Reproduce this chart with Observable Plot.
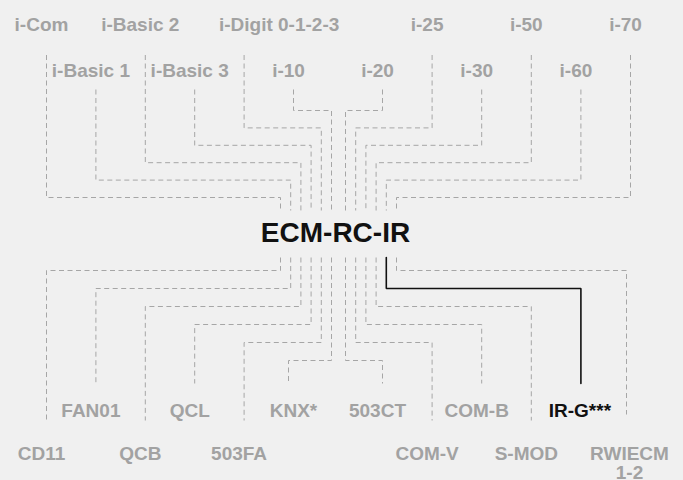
<!DOCTYPE html>
<html><head><meta charset="utf-8">
<script src="https://cdn.jsdelivr.net/npm/d3@7"></script>
<script src="https://cdn.jsdelivr.net/npm/@observablehq/plot@0.6"></script>
<style>html,body{margin:0;padding:0;background:#f0f0f0;} #chart svg{display:block}</style>
</head><body><div id="chart"></div>
<script>
// ---- data ----
const centerLabel = "ECM-RC-IR";
const topLabels = ["i-Com","i-Basic 1","i-Basic 2","i-Basic 3","i-Digit 0-1-2-3","i-10","i-20","i-25","i-30","i-50","i-60","i-70"];
const bottomLabels = ["CD11","FAN01","QCB","QCL","503FA","KNX*","503CT","COM-V","COM-B","S-MOD","IR-G***","RWIECM\n1-2"];
const highlighted = ["IR-G***"];

// ---- layout (computed from index) ----
const W = 683, H = 480;
const slotX = i => i < 6 ? 46 + 49.4 * i : 382 + 49.6 * (i - 6);
const hubX = i => i < 6 ? 280 + 10.2 * i : 345 + 10.2 * (i - 6);
const depth = i => i < 6 ? i : 11 - i;
const isOuter = i => depth(i) % 2 === 0;
const lineNudge = {"KNX*": -5, "RWIECM\n1-2": -4};
const labelNudge = {"i-Digit 0-1-2-3": 40, "KNX*": 5, "IR-G***": 4, "RWIECM\n1-2": 4};

const TOP = {outerY: 24, innerY: 69.5, outerStart: 54.5, innerStart: 89, level: k => 197 - 17.4 * k, hub: 210};
const BOT = {outerY: 453, innerY: 409.5, outerEnd: 420, innerEnd: 383, level: k => 270 + 18 * k, hub: 257};
const CENTER = {x: 335, y: 233};

const segs = [];
const labels = [];
topLabels.forEach((name, i) => {
  const vx = slotX(i) + (lineNudge[name] || 0), hx = hubX(i), lv = TOP.level(depth(i));
  const start = isOuter(i) ? TOP.outerStart : TOP.innerStart;
  [[vx, start], [vx, lv], [hx, lv], [hx, TOP.hub]].forEach(([x, y]) => segs.push({id: "t" + i, name, x, y}));
  labels.push({name, x: slotX(i) - 5 + (labelNudge[name] || 0), y: isOuter(i) ? TOP.outerY : TOP.innerY});
});
bottomLabels.forEach((name, i) => {
  const vx = slotX(i) + (lineNudge[name] || 0), hx = hubX(i), lv = BOT.level(depth(i));
  let end = isOuter(i) ? BOT.outerEnd : BOT.innerEnd;
  if (name.includes("\n")) end -= 6;
  [[hx, BOT.hub], [hx, lv], [vx, lv], [vx, end]].forEach(([x, y]) => segs.push({id: "b" + i, name, x, y}));
  labels.push({name, x: slotX(i) - 5 + (labelNudge[name] || 0), y: isOuter(i) ? BOT.outerY : BOT.innerY});
});
const isHi = d => highlighted.includes(d.name);
const FS = 19;

const chart = Plot.plot({
  width: W, height: H,
  margin: 0,
  x: {domain: [0, W], range: [0, W], axis: null},
  y: {domain: [0, H], range: [0, H], axis: null},
  style: {background: "#f0f0f0", fontFamily: "'Liberation Sans', Arial, sans-serif"},
  marks: [
    Plot.line(segs.filter(d => !isHi(d)), {x: "x", y: "y", z: "id", stroke: "#a6a6a6", strokeWidth: 1, strokeDasharray: "5,3.5", strokeLinejoin: "miter", strokeLinecap: "butt"}),
    Plot.line(segs.filter(isHi), {x: "x", y: "y", z: "id", stroke: "#111", strokeWidth: 1.6, strokeLinejoin: "miter"}),
    Plot.text(labels, {x: "x", y: d => d.y - 0.35 * FS, text: "name", lineAnchor: "top", lineHeight: 1.0,
      fontSize: FS, fontWeight: 700, fill: d => isHi(d) ? "#111" : "#a2a2a2"}),
    Plot.text([centerLabel], {x: () => CENTER.x, y: () => CENTER.y, text: d => d, fontSize: 28, fontWeight: 700, fill: "#111", lineAnchor: "middle"})
  ]
});
document.getElementById("chart").appendChild(chart);
</script>
</body></html>
